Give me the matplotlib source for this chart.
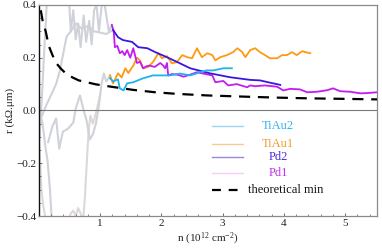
import matplotlib
matplotlib.use("Agg")
import matplotlib.pyplot as plt

plt.rcParams['font.family'] = ['Liberation Serif', 'DejaVu Serif']
plt.rcParams['mathtext.fontset'] = 'custom'
plt.rcParams['mathtext.rm'] = 'Liberation Serif'
plt.rcParams['mathtext.it'] = 'Liberation Serif:italic'

# ---- data (n in 1e12 cm^-2, r in kOhm.um) ----
pd1_n = [1.19, 1.22, 1.24, 1.28, 1.32, 1.36, 1.40, 1.44, 1.49, 1.54, 1.60, 1.65, 1.70, 1.76,
         1.81, 1.89, 1.98, 2.03, 2.06, 2.09, 2.11, 2.17, 2.25, 2.30, 2.36, 2.46, 2.58, 2.68,
         2.83, 2.88, 3.01, 3.09, 3.23, 3.40, 3.45, 3.53, 3.69, 3.89, 3.99, 4.10, 4.26, 4.38,
         4.54, 4.71, 4.80, 4.92, 5.08, 5.25, 5.36, 5.52]
pd1_r = [0.324, 0.30, 0.24, 0.245, 0.217, 0.225, 0.21, 0.229, 0.20, 0.236, 0.18, 0.185, 0.16,
         0.168, 0.17, 0.165, 0.18, 0.17, 0.16, 0.18, 0.133, 0.138, 0.136, 0.133, 0.128, 0.135,
         0.145, 0.140, 0.133, 0.107, 0.112, 0.095, 0.100, 0.088, 0.095, 0.092, 0.095, 0.090,
         0.076, 0.082, 0.080, 0.069, 0.071, 0.077, 0.084, 0.073, 0.071, 0.065, 0.066, 0.069]

pd2_n = [1.21, 1.29, 1.37, 1.52, 1.62, 1.77, 1.90, 2.09, 2.30, 2.47, 2.79, 3.12, 3.45, 3.61,
         3.78, 3.94]
pd2_r = [0.305, 0.278, 0.267, 0.26, 0.24, 0.236, 0.221, 0.202, 0.179, 0.16, 0.141, 0.126,
         0.116, 0.114, 0.105, 0.097]

tiau1_n = [1.16, 1.21, 1.29, 1.35, 1.41, 1.46, 1.54, 1.60, 1.65, 1.70, 1.78, 1.86, 1.95, 2.01,
           2.09, 2.17, 2.25, 2.34, 2.42, 2.50, 2.58, 2.66, 2.75, 2.83, 2.88, 2.96, 3.07, 3.17,
           3.24, 3.32, 3.37, 3.45, 3.53, 3.61, 3.69, 3.77, 3.89, 3.97, 4.05, 4.13, 4.21, 4.30,
           4.35, 4.43]
tiau1_r = [0.133, 0.103, 0.141, 0.125, 0.16, 0.142, 0.17, 0.20, 0.19, 0.16, 0.165, 0.183, 0.217,
           0.198, 0.206, 0.179, 0.183, 0.21, 0.202, 0.198, 0.236, 0.202, 0.217, 0.21, 0.19,
           0.202, 0.21, 0.221, 0.236, 0.221, 0.202, 0.229, 0.236, 0.221, 0.21, 0.198, 0.198,
           0.21, 0.21, 0.221, 0.21, 0.225, 0.221, 0.217]

tiau2_n = [1.16, 1.21, 1.29, 1.32, 1.38, 1.44, 1.54, 1.70, 1.86, 2.02, 2.14, 2.30, 2.47, 2.63,
           2.74, 2.85, 3.01, 3.15]
tiau2_r = [0.122, 0.11, 0.118, 0.084, 0.076, 0.103, 0.107, 0.122, 0.133, 0.133, 0.133, 0.14,
           0.133, 0.145, 0.152, 0.152, 0.16, 0.16]

theory_n = [0.03, 0.06, 0.11, 0.16, 0.22, 0.28, 0.36, 0.44, 0.55, 0.65, 0.80, 0.93, 1.21, 1.54,
            1.90, 2.25, 2.75, 3.28, 3.85, 4.40, 5.00, 5.52]
theory_r = [0.38, 0.34, 0.30, 0.245, 0.21, 0.18, 0.158, 0.14, 0.125, 0.114, 0.106, 0.099, 0.089,
            0.078, 0.069, 0.063, 0.057, 0.053, 0.049, 0.046, 0.044, 0.042]

# low-density (near Dirac point) raw traces shown in gray
gray_a_n = [0.13, 0.11, 0.08, 0.05, 0.02, 0.00, 0.03, 0.06, 0.10, 0.14, 0.18, 0.21]
gray_a_r = [0.42, 0.33, 0.20, 0.06, -0.06, -0.12, -0.02, -0.05, -0.13, -0.19, -0.30, -0.42]
gray_b_n = [0.05, 0.12, 0.20, 0.28, 0.34, 0.40, 0.45, 0.52, 0.60, 0.70, 0.80, 0.90, 1.00, 1.10, 1.21]
gray_b_r = [-0.02, 0.02, 0.06, 0.10, 0.15, 0.22, 0.28, 0.30, 0.33, 0.31, 0.32, 0.30, 0.295, 0.29, 0.305]
gray_c_n = [0.49, 0.52, 0.56, 0.60, 0.64, 0.68, 0.73, 0.77, 0.82, 0.86, 0.90, 0.94, 0.98, 1.02,
            1.06, 1.10, 1.14, 1.19]
gray_c_r = [0.42, 0.30, 0.38, 0.27, 0.33, 0.24, 0.36, 0.26, 0.34, 0.25, 0.38, 0.40, 0.30, 0.39,
            0.42, 0.36, 0.30, 0.324]
gray_d_n = [0.15, 0.22, 0.28, 0.33, 0.39, 0.47, 0.56, 0.60, 0.67, 0.73, 0.78, 0.83, 0.88, 0.93,
            0.98, 1.02, 1.06, 1.10, 1.13, 1.16]
gray_d_r = [-0.12, -0.06, -0.03, -0.145, -0.08, -0.07, -0.046, 0.008, 0.057, 0.0, -0.04, -0.11,
            -0.09, -0.05, 0.02, 0.10, 0.14, 0.11, 0.12, 0.133]
gray_e_n = [0.00, 0.02, 0.04, 0.07, 0.10, 0.12]
gray_e_r = [-0.10, -0.20, -0.30, -0.36, -0.40, -0.42]
gray_f_n = [0.48, 0.52, 0.56, 0.60, 0.64, 0.68, 0.72, 0.75, 0.78, 0.81, 0.84, 0.88, 0.93, 0.97, 1.0]
gray_f_r = [-0.42, -0.39, -0.38, -0.40, -0.37, -0.39, -0.42, -0.33, -0.20, -0.08, -0.02, -0.05,
            -0.01, 0.03, 0.06]

labels = ["TiAu2", "TiAu1", "Pd2", "Pd1", "theoretical min"]
colors = ["#1fb2ef", "#ff9a10", "#3a17e0", "#c41cf0"]
legend_line_colors = ["#9fd6f2", "#f6cc96", "#9a88d6", "#f9cdfb", "black"]
text_colors = ["#30b4ee", "#f49a28", "#4a2ed6", "#c42fee", "#111111"]

fig = plt.figure(figsize=(3.82, 2.48), dpi=100)
ax = fig.add_axes([0.102, 0.129, 0.885, 0.851])

gray1 = "#cfd2d9"
gray2 = "#ddd8d5"
for gn, gr, gc in [(gray_e_n, gray_e_r, gray2), (gray_f_n, gray_f_r, gray2),
                   (gray_a_n, gray_a_r, gray1), (gray_b_n, gray_b_r, gray1),
                   (gray_c_n, gray_c_r, gray1), (gray_d_n, gray_d_r, gray1)]:
    ax.plot(gn, gr, color=gc, lw=1.5, zorder=1)

ax.axhline(0, color="#7a7a7a", lw=0.8, zorder=1.5)

ax.plot(tiau1_n, tiau1_r, color=colors[1], lw=1.3, zorder=3)
ax.plot(pd1_n, pd1_r, color=colors[3], lw=1.3, zorder=3)
ax.plot(pd2_n, pd2_r, color=colors[2], lw=1.3, zorder=3)
ax.plot(tiau2_n, tiau2_r, color=colors[0], lw=1.3, zorder=4)
ax.plot(theory_n, theory_r, color="black", lw=1.6, ls=(0, (5, 3.5)), zorder=5)

ax.set_xlim(0, 5.52)
ax.set_ylim(-0.4, 0.4)
ax.set_xticks([1, 2, 3, 4, 5])
ax.set_yticks([-0.4, -0.2, 0.0, 0.2, 0.4])
ax.set_yticklabels(["\u22120.4", "\u22120.2", "0.0", "0.2", "0.4"])
ax.tick_params(direction="in", length=2.5, width=0.6, labelsize=8, colors="#555555",
               labelcolor="#222222", pad=2)
ax.minorticks_on()
ax.tick_params(which="minor", direction="in", length=1.5, width=0.5, colors="#555555")
ax.tick_params(top=False, right=False, which="both")

for s in ["top", "right", "bottom"]:
    ax.spines[s].set_color("#8a8a8a")
    ax.spines[s].set_linewidth(0.9)
ax.spines["left"].set_color("#111111")
ax.spines["left"].set_linewidth(1.0)

ax.set_xlabel("n (10$^{12}$ cm$^{-2}$)", fontsize=8, labelpad=2, color="#222222")
ax.set_ylabel("r (k\u03a9.\u03bcm)", fontsize=8, labelpad=1, color="#222222")

# legend (Mathematica-style: light keys, coloured centred labels)
leg_rows = [0.427, 0.341, 0.280, 0.204, 0.123]
leg_text_x = [0.706, 0.706, 0.708, 0.708, 0.731]
for lab, lc, tc, yy, tx in zip(labels, legend_line_colors, text_colors, leg_rows, leg_text_x):
    if lab == "theoretical min":
        ax.plot([0.512, 0.604], [yy, yy], color=lc, lw=1.6, ls=(0, (4, 3.5)),
                transform=ax.transAxes, clip_on=False, zorder=6)
    else:
        ax.plot([0.512, 0.604], [yy, yy], color=lc, lw=1.0,
                transform=ax.transAxes, clip_on=False, zorder=6)
    ax.text(tx, yy, lab, color=tc, fontsize=9, ha="center", va="center",
            transform=ax.transAxes, zorder=6)

fig.savefig("out.png", dpi=100)
